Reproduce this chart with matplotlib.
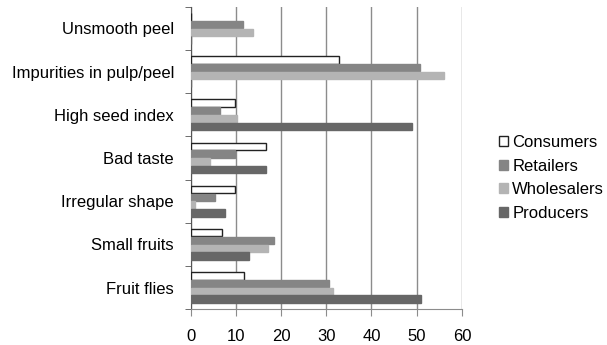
import matplotlib.pyplot as plt
import numpy as np
from matplotlib.patches import Patch

plt.rcParams["font.family"] = ["Liberation Sans", "DejaVu Sans"]

categories = ["Fruit flies", "Small fruits", "Irregular shape", "Bad taste",
              "High seed index", "Impurities in pulp/peel", "Unsmooth peel"]
series = ["Consumers", "Retailers", "Wholesalers", "Producers"]
consumers = [11.7, 7.0, 9.9, 16.7, 9.9, 32.8, 0]
retailers = [30.5, 18.5, 5.5, 9.9, 6.5, 50.8, 11.5]
wholesalers = [31.4, 17.2, 1.0, 4.4, 10.3, 56.1, 13.9]
producers = [50.9, 12.9, 7.7, 16.7, 48.9, 0, 0]

values = [consumers, retailers, wholesalers, producers]
faces = ["white", "#858585", "#b4b4b4", "#676767"]
edges = ["#222222", "#858585", "#b4b4b4", "#676767"]

fig = plt.figure(figsize=(6.07, 3.45), dpi=100)
ax = fig.add_axes([0.314, 0.104, 0.447, 0.876])

y = np.arange(len(categories))
h = 0.18
offsets = [1.5 * h, 0.5 * h, -0.5 * h, -1.5 * h]
for vals, off, fc, ec in zip(values, offsets, faces, edges):
    ax.barh(y + off, vals, height=h * 0.95, color=fc, edgecolor=ec,
            linewidth=1.0, zorder=3)

ax.set_xlim(0, 60)
ax.set_ylim(-0.5, len(categories) - 0.5)
ax.set_xticks(range(0, 61, 10))
ax.xaxis.grid(True, color="#8c8c8c", linewidth=1.0, zorder=0)
ax.set_yticks(y)
ax.set_yticklabels(categories, fontsize=12)
ax.set_yticks(np.arange(-0.5, len(categories), 1), minor=True)
ax.tick_params(axis="y", which="major", length=0, pad=12)
ax.tick_params(axis="y", which="minor", length=4, color="#555555")
ax.tick_params(axis="x", length=5, color="#8c8c8c", labelsize=12, pad=9)

for s in ["top", "right"]:
    ax.spines[s].set_visible(False)
ax.spines["left"].set_color("#555555")
ax.spines["bottom"].set_color("#8c8c8c")

handles = [Patch(facecolor=fc, edgecolor=ec, label=s)
           for s, fc, ec in zip(series, faces, edges)]
fig.legend(handles=handles, loc="center left", bbox_to_anchor=(0.822, 0.484),
           frameon=False, fontsize=12, handlelength=0.55, handleheight=0.55,
           handletextpad=0.25, labelspacing=0.52, borderpad=0, borderaxespad=0)

fig.savefig("out.png", dpi=100)
